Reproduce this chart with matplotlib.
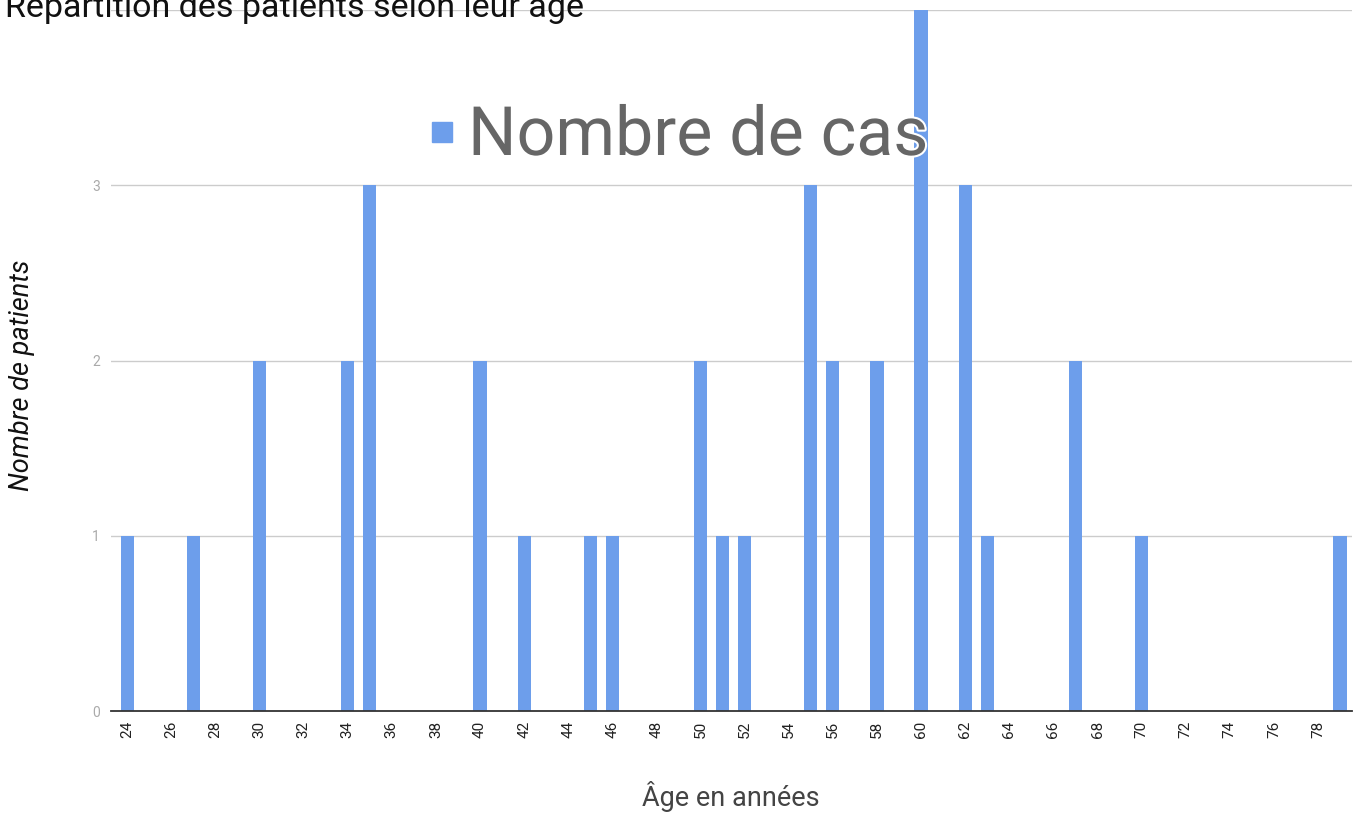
import matplotlib.pyplot as plt
import matplotlib.patheffects as pe

plt.rcParams['font.family'] = ['Roboto', 'DejaVu Sans']

# ages (years) and number of patients
ages = [24, 27, 30, 34, 35, 40, 42, 45, 46, 50, 51, 52, 55, 56, 58, 60, 62, 63, 67, 70, 79]
counts = [1, 1, 2, 2, 3, 2, 1, 1, 1, 2, 1, 1, 3, 2, 2, 4, 3, 1, 2, 1, 1]
xticks = list(range(24, 80, 2))
yticks = [0, 1, 2, 3]

W, H = 1356, 814
fig = plt.figure(figsize=(W / 100, H / 100), dpi=100)
ax = fig.add_axes([0.0819, 0.1265, 0.915, 0.8612])

ax.bar(ages, counts, width=0.6, color="#6d9eeb", zorder=3)

ax.set_xlim(23.27, 79.53)
ax.set_ylim(0, 4)
ax.set_yticks(yticks)
ax.set_xticks(xticks)
ax.set_xticklabels([str(t) for t in xticks], rotation=90, fontsize=11, color="#222222")
ax.tick_params(axis='y', labelsize=10, labelcolor="#aaaaaa", length=0, pad=8)
ax.tick_params(axis='x', length=0, pad=7)
for y in [1, 2, 3, 4]:
    ax.axhline(y, color="#cccccc", linewidth=1, zorder=1)
for s in ['top', 'right', 'left']:
    ax.spines[s].set_visible(False)
ax.spines['bottom'].set_color("#333333")
ax.spines['bottom'].set_linewidth(1.3)
ax.spines['bottom'].set_zorder(4)

fig.text(731 / W, 1 - 797 / H, "Âge en années", fontsize=19.5, color="#444444",
         ha='center', va='center')
fig.text(22 / W, 1 - 375 / H, "Nombre de patients", fontsize=19.5, style='italic',
         color="#111111", rotation=90, ha='center', va='center')

fig.text(0.004, 1 - 17 / H, "Répartition des patients selon leur âge",
         fontsize=24.5, color="#111111", va='baseline', ha='left')

# legend, drawn by hand as in the original
fig.patches.append(plt.Rectangle((432 / W, 1 - 142 / H), 20 / W, 20 / H,
                                 transform=fig.transFigure, color="#6d9eeb", zorder=5))
fig.text(468 / W, 1 - 136 / H, "Nombre de cas", fontsize=49, color="#666666",
         va='center', ha='left', zorder=6,
         path_effects=[pe.withStroke(linewidth=3, foreground='white')])

plt.savefig("out.png", dpi=100)
